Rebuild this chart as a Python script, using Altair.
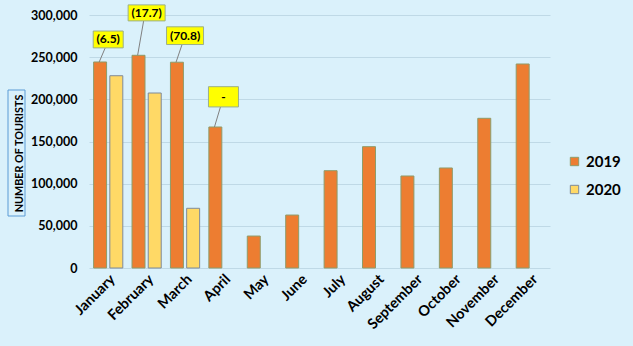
import altair as alt
import pandas as pd

months = ["January", "February", "March", "April", "May", "June", "July",
          "August", "September", "October", "November", "December"]
tourists_2019 = [244300, 252200, 244000, 167200, 37900, 62800, 115400,
                 143900, 109100, 118600, 177500, 241900]
tourists_2020 = [228000, 207500, 70800]
y_ticks = [0, 50000, 100000, 150000, 200000, 250000, 300000]

label_months = ["January", "February", "March", "April"]
label_texts = ["(6.5)", "(17.7)", "(70.8)", "-"]
label_bar_values = [244300, 252200, 244000, 167200]
label_box_low = [261000, 293000, 265000, 191000]
label_box_high = [281000, 312000, 286000, 215000]

rows = []
for m, v in zip(months, tourists_2019):
    rows.append({"month": m, "year": "2019", "value": v})
for m, v in zip(months, tourists_2020):
    rows.append({"month": m, "year": "2020", "value": v})
bars_df = pd.DataFrame(rows)

lab_df = pd.DataFrame({
    "month": label_months,
    "text": label_texts,
    "bar": label_bar_values,
    "low": label_box_low,
    "high": label_box_high,
})
lab_df["mid"] = (lab_df["low"] + lab_df["high"]) / 2

FONT = "Lato"
x_scale = alt.Scale(domain=months, paddingInner=0.24, paddingOuter=0.12)
y_scale = alt.Scale(domain=[0, 300000])

x_axis = alt.Axis(title=None, labelAngle=-45, labelAlign="right",
                  labelBaseline="top", labelFont=FONT, labelFontSize=14.5,
                  labelFontWeight="bold", labelColor="#000000",
                  ticks=False, domain=False, labelPadding=4)
y_axis = alt.Axis(title="NUMBER OF  TOURISTS",
                  values=y_ticks,
                  labelExpr="datum.value == 0 ? '0' : toString(datum.value / 1000) + ',000'",
                  labelFont=FONT, labelFontSize=12.5, labelFontWeight="bold",
                  labelColor="#000000", titleFont=FONT, titleFontSize=10.8,
                  titleFontWeight="bold", titleColor="#000000", titlePadding=6,
                  titleY=138,
                  ticks=False, domain=False, gridColor="#BFD9E6", gridWidth=1,
                  labelPadding=12)

bars = alt.Chart(bars_df).mark_bar(strokeWidth=1).encode(
    x=alt.X("month:N", sort=months, scale=x_scale, axis=x_axis),
    xOffset=alt.XOffset("year:N", scale=alt.Scale(domain=["2019", "2020"], paddingInner=0.2)),
    y=alt.Y("value:Q", scale=y_scale, axis=y_axis),
    fill=alt.Fill("year:N", scale=alt.Scale(domain=["2019", "2020"], range=["#ED7D31", "#FFD966"]),
                  legend=alt.Legend(title=None, orient="none", legendX=478, legendY=139,
                                    labelFont=FONT, labelFontSize=15, labelFontWeight="bold",
                                    labelColor="#000000", symbolType="square", symbolSize=70,
                                    rowPadding=12, labelOffset=4, symbolStrokeWidth=1)),
    stroke=alt.Stroke("year:N", scale=alt.Scale(domain=["2019", "2020"], range=["#8E9C6A", "#7F8A99"]),
                      legend=None),
)

leaders = alt.Chart(lab_df).mark_rule(color="#808080", strokeWidth=1, xOffset=-9, x2Offset=-3).encode(
    x=alt.X("month:N", sort=months, scale=x_scale, axis=x_axis),
    x2="month:N",
    y=alt.Y("bar:Q", scale=y_scale, axis=y_axis),
    y2="low:Q",
)

short_boxes = alt.Chart(lab_df).transform_filter("length(datum.text) < 6").mark_bar(
    width=30, color="#FFFF00", stroke="#9BAF8A", strokeWidth=1
).encode(
    x=alt.X("month:N", sort=months, scale=x_scale, axis=x_axis),
    y=alt.Y("low:Q", scale=y_scale, axis=y_axis),
    y2="high:Q",
)

long_boxes = alt.Chart(lab_df).transform_filter("length(datum.text) >= 6").mark_bar(
    width=37, color="#FFFF00", stroke="#9BAF8A", strokeWidth=1
).encode(
    x=alt.X("month:N", sort=months, scale=x_scale, axis=x_axis),
    y=alt.Y("low:Q", scale=y_scale, axis=y_axis),
    y2="high:Q",
)

texts = alt.Chart(lab_df).mark_text(font=FONT, fontSize=12, fontWeight="bold", color="#000000").encode(
    x=alt.X("month:N", sort=months, scale=x_scale, axis=x_axis),
    y=alt.Y("mid:Q", scale=y_scale, axis=y_axis),
    text="text:N",
)

title_box = alt.Chart(pd.DataFrame({"k": [0]})).mark_rect(
    fill="transparent", stroke="#5B9BD5", strokeWidth=1, clip=False
).encode(
    x=alt.value(-81), x2=alt.value(-64), y=alt.value(75), y2=alt.value(201)
)

chart = alt.layer(bars, title_box, leaders, short_boxes, long_boxes, texts).properties(
    width=461, height=253,
    autosize=alt.AutoSizeParams(type="none"),
    padding={"left": 89, "top": 15, "right": 83, "bottom": 78},
    background="#DAF1FB",
).configure_view(stroke=None)

chart.save("out.html", embed_options={"renderer": "svg", "actions": False})
